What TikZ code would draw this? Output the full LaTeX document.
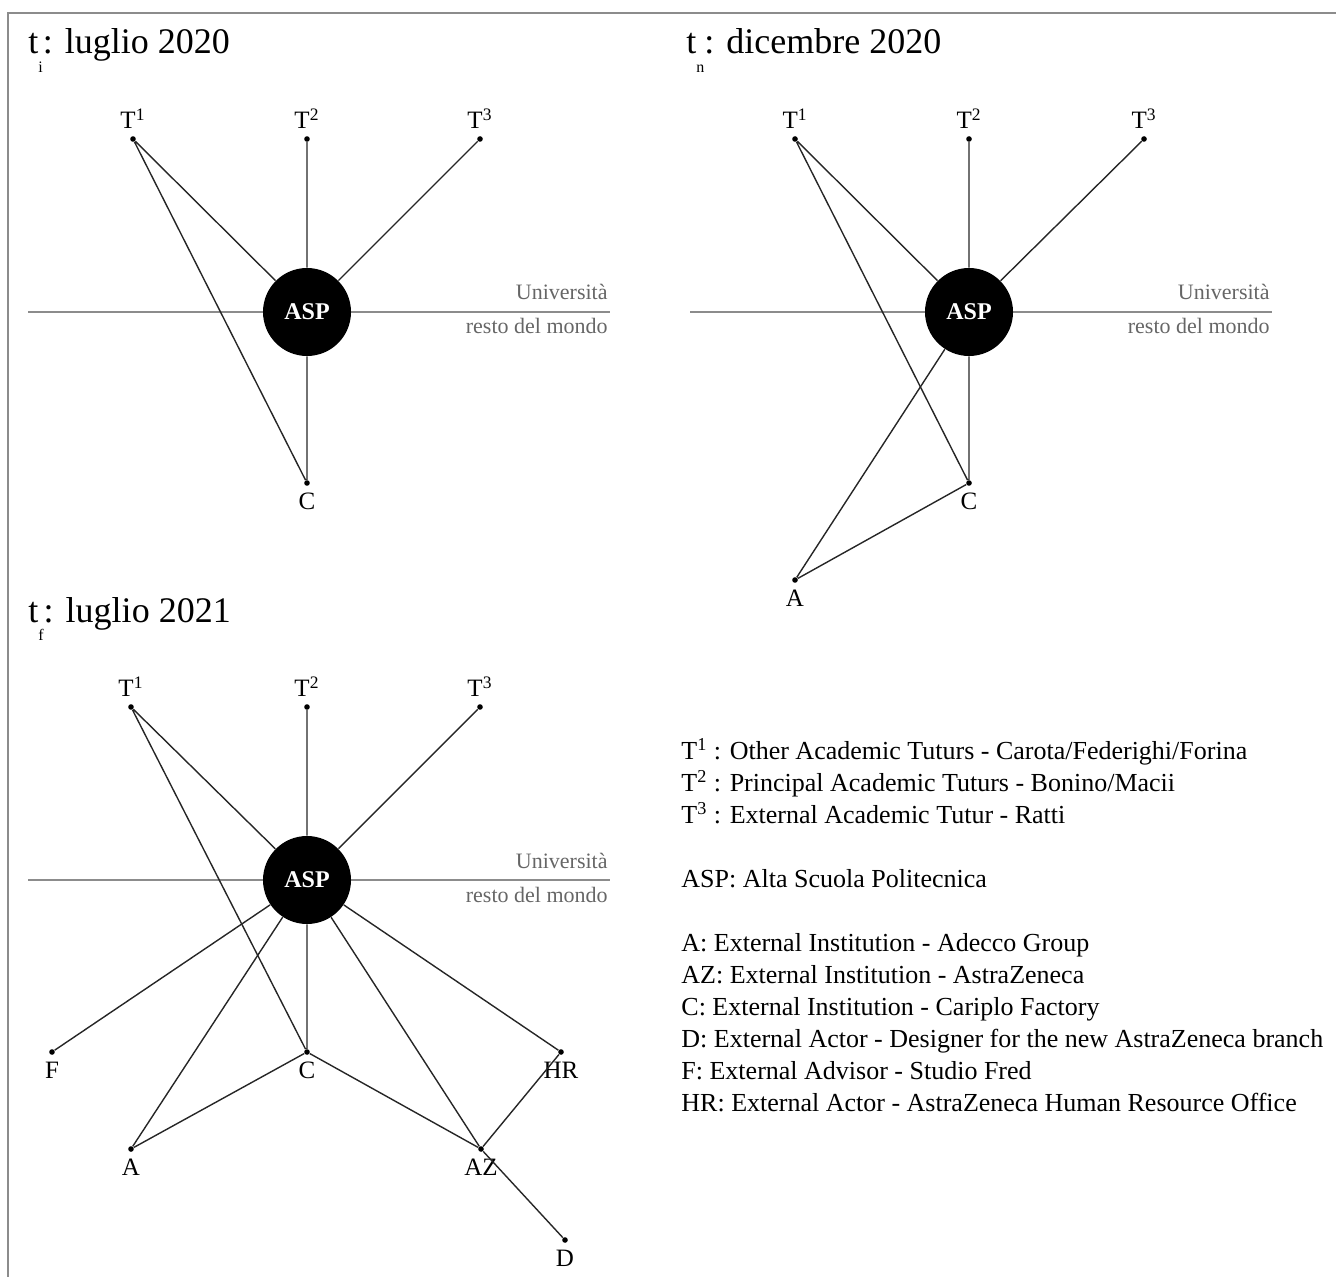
\documentclass[tikz,border=0pt]{standalone}
\usepackage{fontspec}
\setmainfont{Liberation Serif}
\newcommand{\pedice}[1]{\raisebox{-1.1ex}{\fontsize{8}{8}\selectfont #1}}

\begin{document}
\begin{tikzpicture}[x=0.5pt,y=-0.5pt,
	punto/.style={circle,fill=black,inner sep=0pt,minimum size=2.8pt},
	asp/.style={circle,fill=black,inner sep=0pt,minimum size=44pt,text=white,font=\fontsize{12}{12}\selectfont\bfseries},
	legame/.style={line width=0.7pt,color=black!85},
	asse/.style={line width=0.6pt,color=black!45},
	etichetta/.style={font=\fontsize{12.5}{14}\selectfont},
	titolo/.style={font=\fontsize{18}{20}\selectfont,inner sep=0pt},
	zona/.style={font=\fontsize{11}{12}\selectfont,text=black!60,inner sep=0pt},
	legenda/.style={font=\fontsize{13}{16}\selectfont,inner sep=0pt,align=left},
	every label/.style={etichetta}]
		\useasboundingbox (0,0) rectangle (1336,1277);
		%Cornice
		\draw[black!45,line width=1pt] (1336,13)--(8,13)--(8,1277);
		
		%Pannello t_i
		\node[titolo,anchor=base west] (tit1) at (28,54) {t\pedice{i}: luglio 2020};
		\draw[asse] (28,312)--(610,312);
		\node[zona,anchor=base east] (uni1) at (608,300) {Università};
		\node[zona,anchor=base east] (mon1) at (608,334) {resto del mondo};
		\node[asp] (asp1) at (307,312) {ASP};
		\node[punto,label=above:T\textsuperscript{1}] (ta1) at (133,139) {};
		\node[punto,label=above:T\textsuperscript{2}] (tb1) at (307,139) {};
		\node[punto,label=above:T\textsuperscript{3}] (tc1) at (480,139) {};
		\node[punto,label=below:C] (c1) at (307,483) {};
		\draw[legame] (ta1)--(asp1) (ta1)--(c1) (tb1)--(asp1) (tc1)--(asp1) (asp1)--(c1);
		
		%Pannello t_n
		\node[titolo,anchor=base west] (tit2) at (686,54) {t\pedice{n}: dicembre 2020};
		\draw[asse] (690,312)--(1272,312);
		\node[zona,anchor=base east] (uni2) at (1270,300) {Università};
		\node[zona,anchor=base east] (mon2) at (1270,334) {resto del mondo};
		\node[asp] (asp2) at (969,312) {ASP};
		\node[punto,label=above:T\textsuperscript{1}] (ta2) at (795,139) {};
		\node[punto,label=above:T\textsuperscript{2}] (tb2) at (969,139) {};
		\node[punto,label=above:T\textsuperscript{3}] (tc2) at (1144,139) {};
		\node[punto,label=below:C] (c2) at (969,483) {};
		\node[punto,label=below:A] (a2) at (795,580) {};
		\draw[legame] (ta2)--(asp2) (ta2)--(c2) (tb2)--(asp2) (tc2)--(asp2) (asp2)--(c2);
		\draw[legame] (asp2)--(a2)--(c2);
		
		%Pannello t_f
		\node[titolo,anchor=base west] (tit3) at (28,622) {t\pedice{f}: luglio 2021};
		\draw[asse] (28,880)--(610,880);
		\node[zona,anchor=base east] (uni3) at (608,868) {Università};
		\node[zona,anchor=base east] (mon3) at (608,902) {resto del mondo};
		\node[asp] (asp3) at (307,880) {ASP};
		\node[punto,label=above:T\textsuperscript{1}] (ta3) at (131,707) {};
		\node[punto,label=above:T\textsuperscript{2}] (tb3) at (307,707) {};
		\node[punto,label=above:T\textsuperscript{3}] (tc3) at (480,707) {};
		\node[punto,label=below:C] (c3) at (307,1052) {};
		\node[punto,label=below:F] (f3) at (52,1052) {};
		\node[punto,label=below:HR] (hr3) at (561,1052) {};
		\node[punto,label=below:A] (a3) at (131,1149) {};
		\node[punto,label=below:AZ] (az3) at (481,1149) {};
		\node[punto,label=below:D] (d3) at (565,1240) {};
		\draw[legame] (ta3)--(asp3) (ta3)--(c3) (tb3)--(asp3) (tc3)--(asp3) (asp3)--(c3);
		\draw[legame] (asp3)--(f3) (asp3)--(a3) (asp3)--(az3) (asp3)--(hr3);
		\draw[legame] (a3)--(c3)--(az3)--(hr3) (az3)--(d3);
		
		%Legenda
		\node[legenda,anchor=north west] (leg) at (681,738) {T\textsuperscript{1} : Other Academic Tuturs - Carota/Federighi/Forina\\
			T\textsuperscript{2} : Principal Academic Tuturs - Bonino/Macii\\
			T\textsuperscript{3} : External Academic Tutur - Ratti\\[16pt]
			ASP: Alta Scuola Politecnica\\[16pt]
			A: External Institution - Adecco Group\\
			AZ: External Institution - AstraZeneca\\
			C: External Institution - Cariplo Factory\\
			D: External Actor - Designer for the new AstraZeneca branch\\
			F: External Advisor - Studio Fred\\
			HR: External Actor - AstraZeneca Human Resource Office};
\end{tikzpicture}
\end{document}
